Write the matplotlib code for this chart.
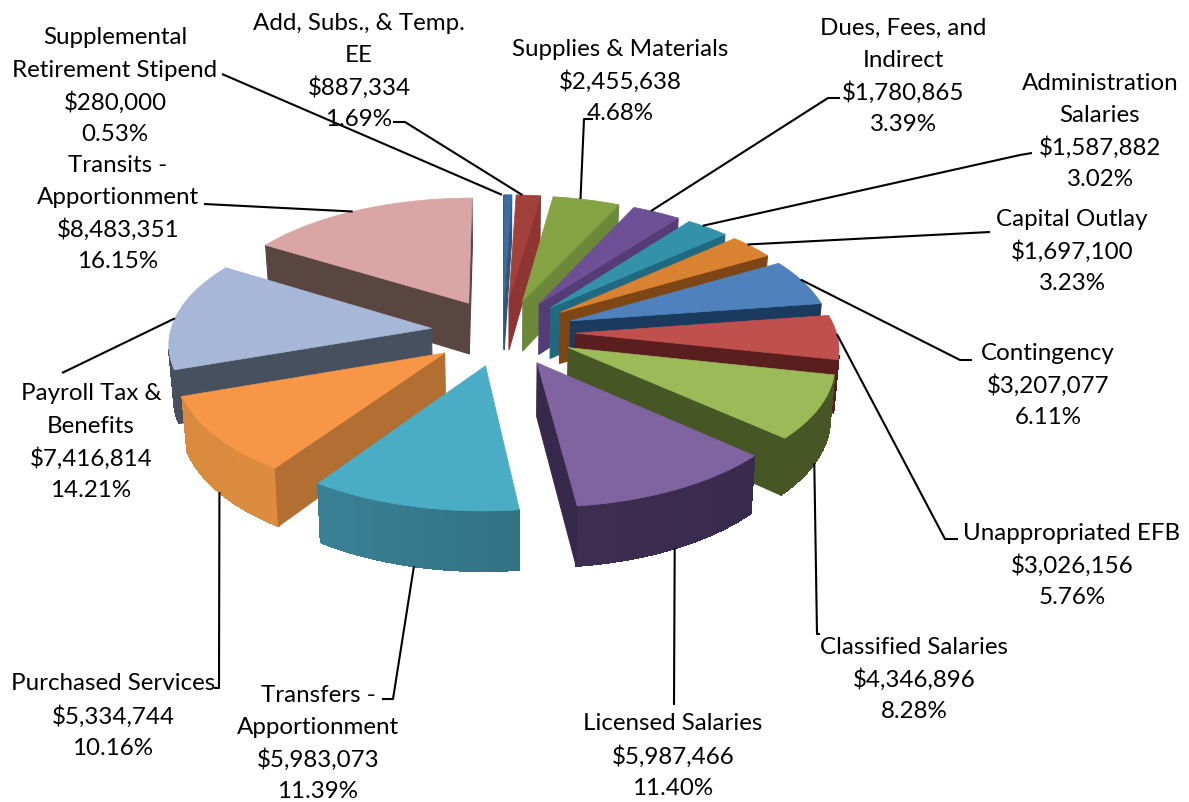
import numpy as np
import matplotlib
matplotlib.use('Agg')
import matplotlib.pyplot as plt
from matplotlib.patches import Polygon

plt.rcParams['font.family'] = ['Lato', 'DejaVu Sans']

names = ['Supplemental\nRetirement Stipend', 'Add, Subs., & Temp.\nEE', 'Supplies & Materials',
         'Dues, Fees, and\nIndirect', 'Administration\nSalaries', 'Capital Outlay', 'Contingency',
         'Unappropriated EFB', 'Classified Salaries', 'Licensed Salaries', 'Transfers -\nApportionment',
         'Purchased Services', 'Payroll Tax &\nBenefits', 'Transits -\nApportionment']
dollars = [280000, 887334, 2455638, 1780865, 1587882, 1697100, 3207077,
           3026156, 4346896, 5987466, 5983073, 5334744, 7416814, 8483351]
percents = [0.53, 1.69, 4.68, 3.39, 3.02, 3.23, 6.11, 5.76, 8.28, 11.40, 11.39, 10.16, 14.21, 16.15]

top_colors = ['#3E6E9E', '#A3403C', '#86A344', '#6E5096', '#3391AA', '#D98232', '#4F81BD',
              '#C0504D', '#9BBB59', '#8064A2', '#4BACC6', '#F79646', '#A7B7D8', '#D9A5A5']
side_colors = ['#2F5578', '#8E3432', '#6A8838', '#553C76', '#1F6A80', '#7D4614', '#1A3A5E',
               '#5A1E1E', '#465624', '#37294C', '#28606E', '#B36E32', '#46505F', '#5A4640']
rim_left = ['#2F5578', '#8E3432', '#6A8838', '#553C76', '#1F6A80', '#7D4614', '#1A3A5E',
            '#5A1E1E', '#465624', '#443358', '#3F8AA0', '#D98A3E', '#46505F', '#5A4640']
rim_right = ['#2F5578', '#8E3432', '#6A8838', '#553C76', '#1F6A80', '#7D4614', '#1A3A5E',
             '#5A1E1E', '#465624', '#37294C', '#285F6E', '#EB9544', '#46505F', '#5A4640']

# pie view settings, worked out from the picture
cx, cy = 503, 332
rx, ry = 261, 122
persp = 0.106
explode = 0.277
depth = 52
shrink = 0.985

# label layout: centre x, y of first line
label_pos = [(115, 38), (359, 23), (620, 49), (903, 28), (1100, 83), (1072, 219), (1048, 353),
             (1072, 533), (914, 647), (673, 724), (318, 695), (113, 684), (91, 394), (118, 165)]
line_gap = 32.2

# leader ends, listed from the label towards the slice
leader_paths = [[(222, 74)], [(393, 122), (405, 122)], [(593, 119), (584, 119)], [(840, 98), (828, 98)],
                [(1032, 153), (1020, 155)], [(990, 232)], [(972, 360), (960, 360)], [(958, 539), (945, 539)],
                [(820, 634), (817, 634)], [(674, 705)], [(382, 699), (393, 699)], [(214, 688), (219, 688)],
                [(62, 373)], [(204, 204)]]
leader_bottom = [False, False, False, False, False, False, False, False, True, True, True, True, False, False]
leader_turn = np.radians(-1.5)


def project(x, y, down=False):
    f = 1 / (1 + persp * y)
    sx = rx * x * f
    sy = cy - ry * y * f
    if down:
        sx = sx * shrink
        sy = sy + depth * f
    return cx + sx, sy


def mix(c1, c2, t):
    a = np.array(matplotlib.colors.to_rgb(c1))
    b = np.array(matplotlib.colors.to_rgb(c2))
    return tuple(a + (b - a) * t)


def side_quad(ax, p, q, color, smooth=True):
    a, b = project(*p), project(*q)
    c, d = project(*q, down=True), project(*p, down=True)
    # only faces turned towards the viewer
    area = (b[0] - a[0]) * (b[1] + a[1])
    area += (c[0] - b[0]) * (c[1] + b[1])
    area += (d[0] - c[0]) * (d[1] + c[1])
    area += (a[0] - d[0]) * (a[1] + d[1])
    if area > 0:
        ax.add_patch(Polygon([a, b, c, d], closed=True, facecolor=color, edgecolor=color, lw=0.8,
                             antialiased=smooth))


fig = plt.figure(figsize=(11.89, 8.02), dpi=100)
ax = fig.add_axes([0, 0, 1, 1])
ax.set_xlim(0, 1189)
ax.set_ylim(802, 0)
ax.axis('off')

ends = np.cumsum(percents) / np.sum(percents) * 2 * np.pi
starts = np.concatenate([[0], ends[:-1]])
mids = (starts + ends) / 2

# back slices first so the front ones cover them
for i in np.argsort(-np.cos(mids)):
    tip = (explode * np.sin(mids[i]), explode * np.cos(mids[i]))
    n = max(3, int(percents[i] * 4))
    angles = np.linspace(starts[i], ends[i], n)
    arc = [(tip[0] + np.sin(a), tip[1] + np.cos(a)) for a in angles]

    # faces with screen coordinates going clockwise
    for j in range(n - 1):
        xs = (arc[j][0] + arc[j + 1][0]) / 2 - tip[0]
        side_quad(ax, arc[j], arc[j + 1], mix(rim_left[i], rim_right[i], (xs + 1) / 2), smooth=False)
    side_quad(ax, tip, arc[0], side_colors[i])
    side_quad(ax, arc[-1], tip, side_colors[i])

    outline = [project(*tip)] + [project(*p) for p in arc]
    ax.add_patch(Polygon(outline, closed=True, facecolor=top_colors[i], edgecolor=top_colors[i], lw=0.5))

for i in range(len(names)):
    tip = (explode * np.sin(mids[i]), explode * np.cos(mids[i]))
    a = mids[i] if leader_bottom[i] else mids[i] + leader_turn
    rim = (tip[0] + np.sin(a), tip[1] + np.cos(a))
    anchor = project(*rim, down=leader_bottom[i])
    pts = leader_paths[i] + [anchor]
    ax.plot([p[0] for p in pts], [p[1] for p in pts], color='black', lw=1.5, solid_capstyle='butt')

    lines = names[i].split('\n') + [f'${dollars[i]:,}', f'{percents[i]:.2f}%']
    x0, y0 = label_pos[i]
    for k, line in enumerate(lines):
        ax.text(x0, y0 + k * line_gap, line, ha='center', va='center', fontsize=17.4, color='black')

fig.savefig('out.png', dpi=100)
